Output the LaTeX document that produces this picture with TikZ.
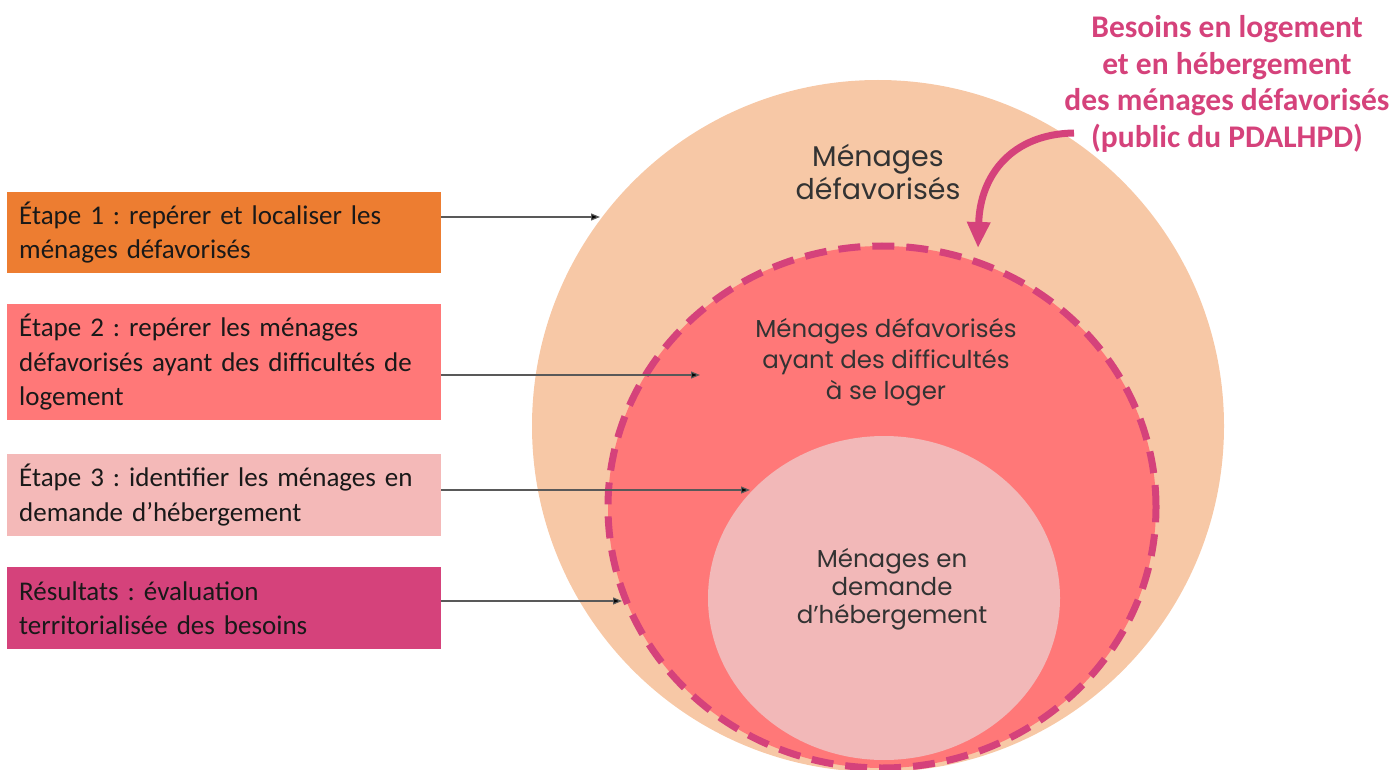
\documentclass[tikz,border=0pt]{standalone}
\usepackage{fontspec}
\setmainfont{Carlito}
\newfontfamily\gothique{Poppins}
\usetikzlibrary{arrows.meta,positioning}
\frenchspacing
\definecolor{peche}{HTML}{F7C8A6}
\definecolor{saumon}{HTML}{FF7878}
\definecolor{rosepale}{HTML}{F2B8B8}
\definecolor{framboise}{HTML}{D5427B}
\definecolor{orange}{HTML}{ED7D31}
\definecolor{rosebox}{HTML}{F4B9B8}
\tikzset{
  etape/.style={anchor=north west, text width=410pt, align=left, inner xsep=12pt,
    font=\fontsize{27}{34.5}\selectfont, text=black!90},
  lien/.style={draw=black!65, line width=1.2pt, -{Triangle[length=9pt,width=7pt,fill=black]}},
  cercle/.style={align=center, text=black!80},
}

\begin{document}
\begin{tikzpicture}[x=1pt,y=-1pt]
\useasboundingbox (0,0) rectangle (1398,770);
\fill[peche] (878,426) circle [radius=346pt];
\fill[saumon] (882,507) ellipse [x radius=274pt, y radius=261pt];
\fill[rosepale] (884,598) ellipse [x radius=176pt, y radius=162pt];
\draw[framboise, line width=7pt, dash pattern=on 22pt off 12pt] (882,507) ellipse [x radius=274pt, y radius=261pt];

\node[cercle, font=\gothique\fontsize{28.5}{33}\selectfont] (defav) at (878,172) {Ménages\\défavorisés};
\node[cercle, font=\gothique\fontsize{24.5}{31}\selectfont] (difficulte) at (886,362) {Ménages défavorisés\\ayant des difficultés\\à se loger};
\node[cercle, font=\gothique\fontsize{24.5}{28}\selectfont] (demande) at (892,589) {Ménages en\\demande\\d’hébergement};

\node[etape, fill=orange, minimum height=81pt] (b1) at (7,192) {Étape 1 : repérer et localiser les\\ménages défavorisés};
\node[etape, fill=saumon, minimum height=116pt] (b2) at (7,304) {Étape 2 : repérer les ménages\\défavorisés ayant des difficultés de\\logement};
\node[etape, fill=rosebox, minimum height=82pt] (b3) at (7,454) {Étape 3 : identifier les ménages en\\demande d’hébergement};
\node[etape, fill=framboise, minimum height=82pt] (b4) at (7,567) {Résultats : évaluation\\territorialisée des besoins};

\coordinate (t1) at (600,217);
\coordinate (t2) at (700,375);
\coordinate (t3) at (750,490);
\coordinate (t4) at (622,601);
\draw[lien] (b1.east |- t1) -- (t1);
\draw[lien] (b2.east |- t2) -- (t2);
\draw[lien] (b3.east |- t3) -- (t3);
\draw[lien] (b4.east |- t4) -- (t4);

\node[align=center, text=framboise, font=\bfseries\fontsize{31.5}{36.5}\selectfont] (besoins) at (1227,84)
  {Besoins en logement\\et en hébergement\\des ménages défavorisés\\(public du PDALHPD)};
\coordinate (depart) at (1074,133);
\coordinate (cible) at (978,248);
\draw[framboise, line width=7pt, -{Triangle[length=26pt,width=22pt]}] (depart) .. controls (1012,134) and (980,175) .. (cible);
\end{tikzpicture}
\end{document}
